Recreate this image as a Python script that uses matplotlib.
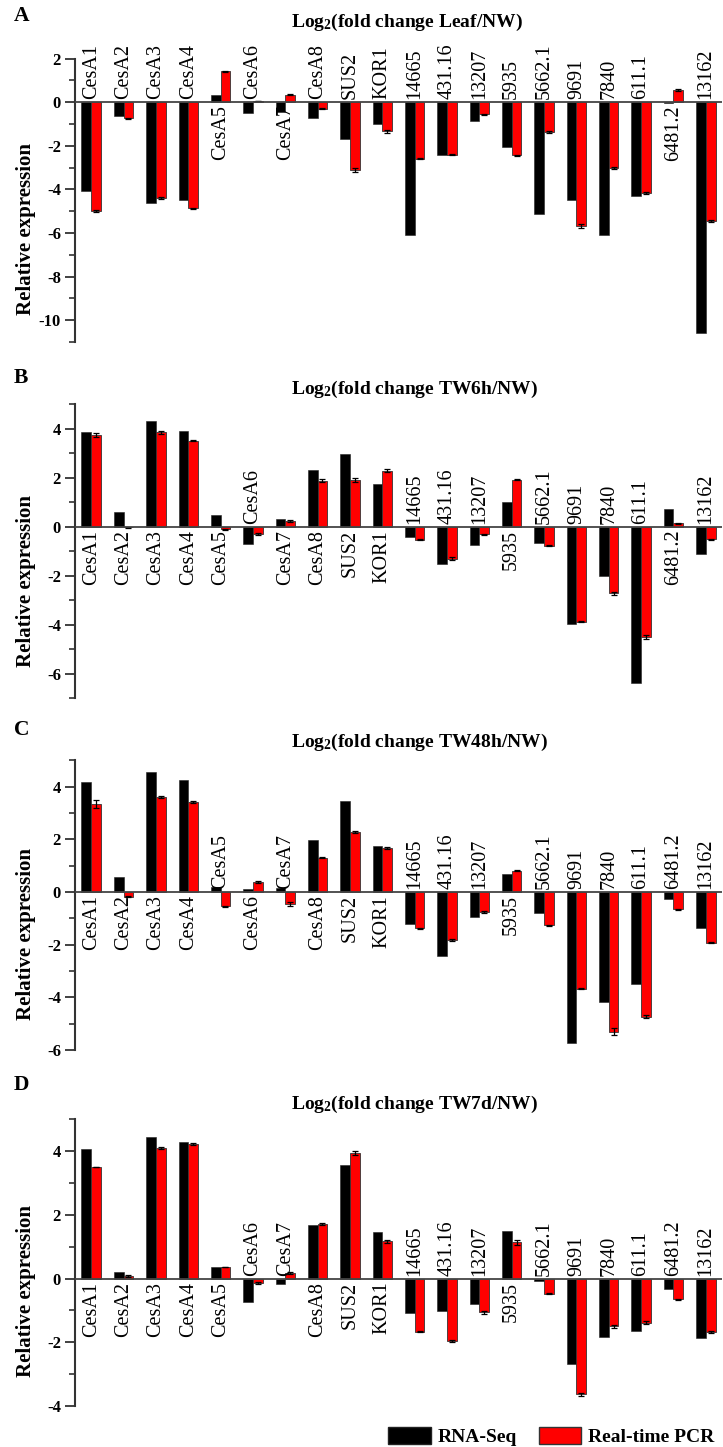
import matplotlib
matplotlib.use('Agg')
import matplotlib.pyplot as plt
import numpy as np
from matplotlib.patches import Patch

plt.rcParams['font.family'] = ['Liberation Serif', 'DejaVu Serif']
plt.rcParams['axes.unicode_minus'] = False
plt.rcParams['mathtext.fontset'] = 'custom'
plt.rcParams['mathtext.rm'] = 'Liberation Serif:bold'
plt.rcParams['mathtext.default'] = 'rm'

genes = ['CesA1', 'CesA2', 'CesA3', 'CesA4', 'CesA5', 'CesA6', 'CesA7', 'CesA8', 'SUS2', 'KOR1',
         '14665', '431.16', '13207', '5935', '5662.1', '9691', '7840', '611.1', '6481.2', '13162']

# A: Leaf/NW
rna_a = [-4.09, -0.61, -4.63, -4.50, 0.33, -0.50, -0.43, -0.73, -1.68, -0.99,
         -6.09, -2.44, -0.84, -2.06, -5.11, -4.49, -6.09, -4.31, -0.02, -10.58]
pcr_a = [-5.00, -0.73, -4.40, -4.87, 1.42, 0.05, 0.35, -0.30, -3.12, -1.34,
         -2.58, -2.41, -0.55, -2.44, -1.36, -5.68, -3.02, -4.17, 0.56, -5.44]
err_a = [0.05, 0.02, 0.06, 0.03, 0.03, 0.01, 0.03, 0.03, 0.10, 0.05,
         0.03, 0.03, 0.03, 0.03, 0.05, 0.08, 0.03, 0.04, 0.03, 0.06]

# B: TW6h/NW
rna_b = [3.88, 0.60, 4.33, 3.89, 0.48, -0.71, 0.31, 2.31, 2.95, 1.73,
         -0.44, -1.54, -0.75, 1.02, -0.68, -3.99, -2.00, -6.39, 0.72, -1.13]
pcr_b = [3.75, -0.03, 3.85, 3.51, -0.10, -0.30, 0.23, 1.88, 1.90, 2.29,
         -0.53, -1.30, -0.31, 1.92, -0.77, -3.88, -2.72, -4.52, 0.15, -0.52]
err_b = [0.08, 0.01, 0.05, 0.02, 0.02, 0.03, 0.05, 0.05, 0.07, 0.06,
         0.03, 0.06, 0.03, 0.03, 0.02, 0.03, 0.07, 0.08, 0.02, 0.03]

# C: TW48h/NW
rna_c = [4.16, 0.57, 4.56, 4.27, 0.18, 0.13, 0.15, 1.96, 3.44, 1.75,
         -1.20, -2.43, -0.94, 0.70, -0.81, -5.72, -4.18, -3.49, -0.28, -1.38]
pcr_c = [3.33, -0.18, 3.60, 3.42, -0.54, 0.39, -0.46, 1.30, 2.28, 1.67,
         -1.38, -1.82, -0.75, 0.81, -1.27, -3.67, -5.30, -4.73, -0.66, -1.92]
err_c = [0.15, 0.02, 0.05, 0.03, 0.02, 0.03, 0.07, 0.02, 0.05, 0.03,
         0.02, 0.05, 0.04, 0.02, 0.02, 0.02, 0.13, 0.06, 0.02, 0.02]

# D: TW7d/NW
rna_d = [4.08, 0.20, 4.44, 4.30, 0.37, -0.74, -0.18, 1.68, 3.56, 1.46,
         -1.09, -1.01, -0.80, 1.49, -0.08, -2.69, -1.84, -1.63, -0.32, -1.87]
pcr_d = [3.51, 0.08, 4.11, 4.23, 0.37, -0.15, 0.18, 1.73, 3.94, 1.17,
         -1.66, -1.95, -1.06, 1.14, -0.47, -3.63, -1.50, -1.38, -0.65, -1.68]
err_d = [0.01, 0.03, 0.04, 0.02, 0.01, 0.03, 0.02, 0.03, 0.07, 0.04,
         0.03, 0.03, 0.04, 0.07, 0.01, 0.05, 0.04, 0.04, 0.02, 0.03]

# where each gene name sits: u = above the zero line, d = below
side_a = 'uuuududuuuuuuuuuuudu'
side_b = 'dddddudddduuuduuuudu'
side_c = 'ddddududdduuuduuuuuu'
side_d = 'ddddduuddduuuduuuuuu'

W, H = 723, 1447
fig = plt.figure(figsize=(W / 100, H / 100), dpi=100)

# letter, title tail, data, y-limits, axes top/bottom (px), title baseline, letter baseline
panels = [
    ('A', 'Leaf/NW', rna_a, pcr_a, err_a, side_a, (-11, 2), (58.7, 342), 27, 21),
    ('B', 'TW6h/NW', rna_b, pcr_b, err_b, side_b, (-7, 5), (404.2, 698.2), 394, 383),
    ('C', 'TW48h/NW', rna_c, pcr_c, err_c, side_c, (-6, 5), (760.3, 1050), 747, 735),
    ('D', 'TW7d/NW', rna_d, pcr_d, err_d, side_d, (-4, 5), (1119.5, 1406), 1109, 1090),
]

x = np.arange(len(genes))
for letter, tail, rna, pcr, err, side, lim, (top, bot), tbase, lbase in panels:
    ax = fig.add_axes([75 / W, 1 - bot / H, 647 / W, (bot - top) / H])
    ax.bar(x - 0.15, rna, 0.3, color='black', edgecolor='#222222', linewidth=0.4)
    ax.bar(x + 0.15, pcr, 0.3, color='#ff0000', edgecolor='#333333', linewidth=0.6,
           yerr=err, capsize=2, error_kw=dict(elinewidth=0.9, capthick=0.9, ecolor='black'))
    ax.axhline(0, color='#444444', linewidth=1.3, zorder=3)
    ax.set_xlim(-0.5, 19.5)
    ax.set_ylim(*lim)
    for s in ['top', 'right', 'bottom']:
        ax.spines[s].set_visible(False)
    ax.spines['left'].set_linewidth(1.5)
    ax.spines['left'].set_color('#333333')
    ax.set_xticks([])
    ticks = np.arange(int(np.ceil(lim[0] / 2.0)) * 2, lim[1] + 0.01, 2)
    ax.set_yticks(ticks)
    ax.set_yticklabels([str(int(t)) for t in ticks], fontweight='bold', fontsize=12)
    ax.set_yticks(np.arange(lim[0], lim[1] + 0.01, 1), minor=True)
    ax.tick_params(axis='y', which='major', length=7, width=1.3, color='#333333', pad=3)
    ax.tick_params(axis='y', which='minor', length=4, width=1.2, color='#333333')

    for i, g in enumerate(genes):
        if side[i] == 'u':
            ax.annotate(g, (i, 0), xytext=(0, 2.2), textcoords='offset points',
                        rotation=90, ha='center', va='bottom', fontsize=14.5)
        else:
            ax.annotate(g, (i, 0), xytext=(0, -2.2), textcoords='offset points',
                        rotation=90, ha='center', va='top', fontsize=14.5)

    fig.text(291 / W, 1 - tbase / H, 'Log$_{2}$(fold change ' + tail + ')',
             ha='left', va='baseline', fontsize=14, fontweight='bold')
    fig.text(14 / W, 1 - lbase / H, letter, ha='left', va='baseline',
             fontsize=15.5, fontweight='bold')
    fig.text(26 / W, 1 - (bot - 0.4 * (bot - top)) / H, 'Relative expression',
             rotation=90, ha='center', va='center', fontsize=15, fontweight='bold')

handles = [Patch(facecolor='black', edgecolor='#222222', label='RNA-Seq'),
           Patch(facecolor='#ff0000', edgecolor='#333333', label='Real-time PCR')]
fig.legend(handles=handles, loc='lower right', bbox_to_anchor=(726 / W, -11 / H),
           ncol=2, frameon=False, handlelength=2.2, handleheight=1.0,
           handletextpad=0.35, columnspacing=1.1, borderpad=0.1,
           prop={'weight': 'bold', 'size': 14})

fig.savefig('out.png', dpi=100)
